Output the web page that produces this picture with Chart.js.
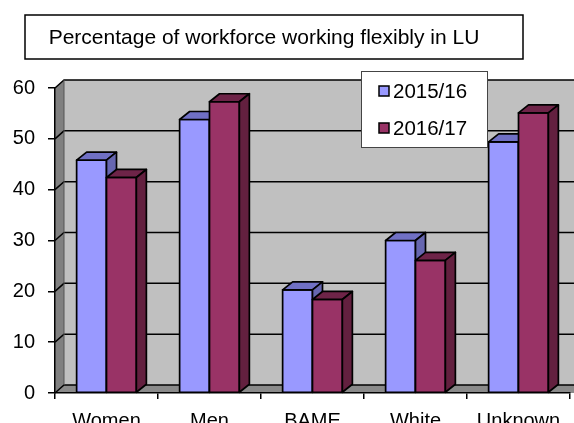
<!DOCTYPE html>
<html>
<head>
<meta charset="utf-8">
<script src="https://cdn.jsdelivr.net/npm/chart.js@4.4.1/dist/chart.umd.min.js"></script>
<style>
  html, body { margin: 0; padding: 0; background: #fff; }
</style>
</head>
<body>
<canvas id="myChart" width="574" height="423"></canvas>
<script>
var categories = ["Women", "Men", "BAME", "White", "Unknown"];
var seriesNames = ["2015/16", "2016/17"];
var values1516 = [45.8, 53.8, 20.3, 30.0, 49.4];
var values1617 = [42.4, 57.3, 18.4, 26.1, 55.1];
var yTicks = [0, 10, 20, 30, 40, 50, 60];
var titleText = "Percentage of workforce working flexibly in LU";

var FONT = '"Liberation Sans", Arial, sans-serif';

// face colours for the fake 3d columns: front, top, side
var faces = [
    { front: '#9999ff', top: '#7070c4', side: '#6666b0' },
    { front: '#993366', top: '#6e2448', side: '#63203f' }
];

var barDepth = { x: 10, y: 8 };
var wallDepth = { x: 9, y: 8 };

function poly(ctx, pts, fill, stroke, lw) {
    ctx.beginPath();
    ctx.moveTo(pts[0][0], pts[0][1]);
    for (var i = 1; i < pts.length; i++) ctx.lineTo(pts[i][0], pts[i][1]);
    ctx.closePath();
    if (fill) { ctx.fillStyle = fill; ctx.fill(); }
    if (stroke) { ctx.strokeStyle = stroke; ctx.lineWidth = lw || 1.7; ctx.lineJoin = 'round'; ctx.stroke(); }
}

var box3d = {
    id: 'box3d',
    beforeDraw: function (chart) {
        var ctx = chart.ctx, a = chart.chartArea, ys = chart.scales.y;
        var top = ys.getPixelForValue(yTicks[yTicks.length - 1]);
        var bot = ys.getPixelForValue(yTicks[0]);
        var L = a.left, R = a.right + 30, dx = wallDepth.x, dy = wallDepth.y;
        ctx.save();
        ctx.fillStyle = '#fff';
        ctx.fillRect(0, 0, chart.width, chart.height);
        // back wall, left wall, floor
        poly(ctx, [[L + dx, top - dy], [R, top - dy], [R, bot - dy], [L + dx, bot - dy]], '#c0c0c0');
        poly(ctx, [[L, top], [L + dx, top - dy], [L + dx, bot - dy], [L, bot]], '#808080');
        poly(ctx, [[L, bot], [L + dx, bot - dy], [R, bot - dy], [R, bot]], '#8a8a8a');
        // gridlines on the walls
        ctx.strokeStyle = '#000';
        ctx.lineWidth = 1.5;
        yTicks.forEach(function (v) {
            var y = ys.getPixelForValue(v);
            ctx.beginPath();
            ctx.moveTo(L, y);
            ctx.lineTo(L + dx, y - dy);
            ctx.lineTo(R, y - dy);
            ctx.stroke();
        });
        ctx.beginPath();
        ctx.moveTo(L + dx, top - dy);
        ctx.lineTo(L + dx, bot - dy);
        ctx.strokeStyle = '#555';
        ctx.lineWidth = 1;
        ctx.stroke();
        ctx.restore();
    },
    afterDatasetsDraw: function (chart) {
        var ctx = chart.ctx, dx = barDepth.x, dy = barDepth.y;
        ctx.save();
        for (var i = 0; i < categories.length; i++) {
            for (var d = 0; d < chart.data.datasets.length; d++) {
                var p = chart.getDatasetMeta(d).data[i].getProps(['x', 'y', 'base', 'width'], true);
                var x0 = p.x - p.width / 2, x1 = p.x + p.width / 2;
                var f = faces[d];
                poly(ctx, [[x0, p.y], [x1, p.y], [x1, p.base], [x0, p.base]], f.front, '#000');
                poly(ctx, [[x0, p.y], [x1, p.y], [x1 + dx, p.y - dy], [x0 + dx, p.y - dy]], f.top, '#000');
                poly(ctx, [[x1, p.y], [x1 + dx, p.y - dy], [x1 + dx, p.base - dy], [x1, p.base]], f.side, '#000');
            }
        }
        ctx.restore();
    },
    afterDraw: function (chart) {
        var ctx = chart.ctx;
        ctx.save();
        // title box
        ctx.fillStyle = '#fff';
        ctx.fillRect(25, 15, 498, 44);
        ctx.strokeStyle = '#000';
        ctx.lineWidth = 1.5;
        ctx.strokeRect(25, 15, 498, 44);
        ctx.fillStyle = '#000';
        ctx.font = '21px ' + FONT;
        ctx.textAlign = 'center';
        ctx.textBaseline = 'middle';
        ctx.fillText(titleText, 264, 38);
        // legend box
        ctx.font = '20.5px ' + FONT;
        ctx.fillStyle = '#fff';
        ctx.fillRect(361, 71, 126, 76);
        ctx.strokeStyle = '#444';
        ctx.lineWidth = 1;
        ctx.strokeRect(361.5, 71.5, 126, 76);
        ctx.textAlign = 'left';
        chart.data.datasets.forEach(function (ds, d) {
            var cy = 91 + d * 37;
            ctx.fillStyle = ds.backgroundColor;
            ctx.fillRect(379, cy - 5, 10, 10);
            ctx.strokeStyle = '#000';
            ctx.lineWidth = 1.5;
            ctx.strokeRect(379, cy - 5, 10, 10);
            ctx.fillStyle = '#000';
            ctx.fillText(ds.label, 393, cy + 1);
        });
        ctx.restore();
    }
};

var ctx = document.getElementById('myChart').getContext('2d');

var chart = new Chart(ctx, {
    type: 'bar',
    data: {
        labels: categories,
        datasets: [
            { label: seriesNames[0], data: values1516, backgroundColor: faces[0].front },
            { label: seriesNames[1], data: values1617, backgroundColor: faces[1].front }
        ]
    },
    options: {
        responsive: false,
        animation: false,
        layout: { padding: { top: 88, right: 4, left: 0, bottom: 0 } },
        datasets: { bar: { categoryPercentage: 0.58, barPercentage: 1 } },
        plugins: {
            legend: { display: false },
            title: { display: false },
            tooltip: { enabled: false }
        },
        scales: {
            x: {
                grid: { offset: true, drawOnChartArea: false, drawTicks: true, tickLength: 6, color: '#000', lineWidth: 1.5 },
                border: { display: true, color: '#000', width: 1.5 },
                ticks: { color: '#000', padding: 10, font: { family: FONT, size: 20 } },
                afterFit: function (scale) { scale.height = 30; }
            },
            y: {
                min: 0,
                max: 60,
                ticks: { stepSize: 10, color: '#000', padding: 13, font: { family: FONT, size: 20 } },
                grid: { drawOnChartArea: false, drawTicks: true, tickLength: 7, color: '#000', lineWidth: 1.5 },
                border: { display: true, color: '#000', width: 1.5 },
                afterFit: function (scale) { scale.width = 55; }
            }
        }
    },
    plugins: [box3d]
});
</script>
</body>
</html>
